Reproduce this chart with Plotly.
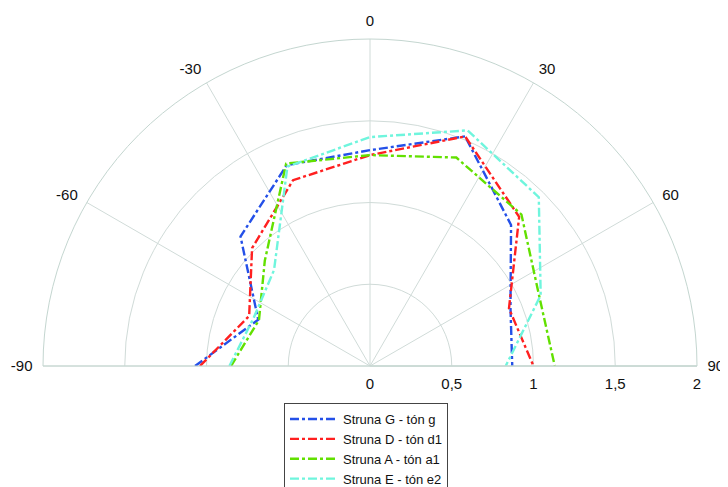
import plotly.graph_objects as go

angles = [-90, -67.5, -45, -22.5, 0, 22.5, 45, 67.5, 90]
series_names = ["Struna G - tón g", "Struna D - tón d1", "Struna A - tón a1", "Struna E - tón e2"]
g_vals = [1.07, 0.74, 1.12, 1.33, 1.32, 1.52, 1.22, 0.93, 0.87]
d_vals = [1.04, 0.80, 1.02, 1.23, 1.29, 1.52, 1.29, 0.92, 1.00]
a_vals = [0.85, 0.735, 0.91, 1.34, 1.29, 1.38, 1.31, 1.12, 1.13]
e_vals = [0.86, 0.77, 0.83, 1.32, 1.40, 1.56, 1.46, 1.13, 0.83]
colors = ["#2450e8", "#ff2020", "#62e000", "#6ff5dd"]

angle_ticks = [-90, -60, -30, 0, 30, 60, 90]
angle_labels = ["-90", "-60", "-30", "0", "30", "60", "90"]
radial_ticks = [0, 0.5, 1, 1.5, 2]
radial_labels = ["0", "0,5", "1", "1,5", "2"]

fig = go.Figure()
for name, vals, col in zip(series_names, [g_vals, d_vals, a_vals, e_vals], colors):
    fig.add_trace(go.Scatterpolar(
        r=vals, theta=angles, mode="lines", name=name,
        line=dict(color=col, width=2.4, dash="dashdot"),
    ))

grid = "#d0dbd8"
# page body has an 8px default margin, so the figure is drawn 8px smaller
fig.update_layout(
    width=720, height=479,
    margin=dict(l=35, r=31, t=31, b=121, autoexpand=False),
    paper_bgcolor="white",
    font=dict(family="Liberation Sans, Arial, sans-serif", size=15, color="#111111"),
    polar=dict(
        sector=[0, 180],
        bgcolor="white",
        domain=dict(x=[0, 1], y=[0, 1]),
        angularaxis=dict(
            rotation=90, direction="clockwise",
            tickmode="array", tickvals=angle_ticks, ticktext=angle_labels,
            showgrid=True, gridcolor=grid, gridwidth=1,
            showline=True, linecolor="#c4d6d0", linewidth=1,
            ticks="outside", ticklen=7, tickcolor="rgba(0,0,0,0)",
            tickfont=dict(size=15, color="#111111"),
        ),
        radialaxis=dict(
            range=[0, 2], angle=0, side="clockwise",
            tickmode="array", tickvals=radial_ticks, ticktext=radial_labels,
            showgrid=True, gridcolor=grid, gridwidth=1,
            showline=True, linecolor="#c4d6d0", linewidth=1,
            ticks="outside", ticklen=4, tickcolor="rgba(0,0,0,0)",
            tickfont=dict(size=15, color="#111111"),
        ),
    ),
    legend=dict(
        x=(284 - 43) / 654, y=-(403 - 366) / 327, xanchor="left", yanchor="top",
        bordercolor="#444444", borderwidth=1, bgcolor="white",
        font=dict(size=13, color="#111111"),
        tracegroupgap=0, itemwidth=48,
    ),
    showlegend=True,
)

fig.write_html("out.html")
